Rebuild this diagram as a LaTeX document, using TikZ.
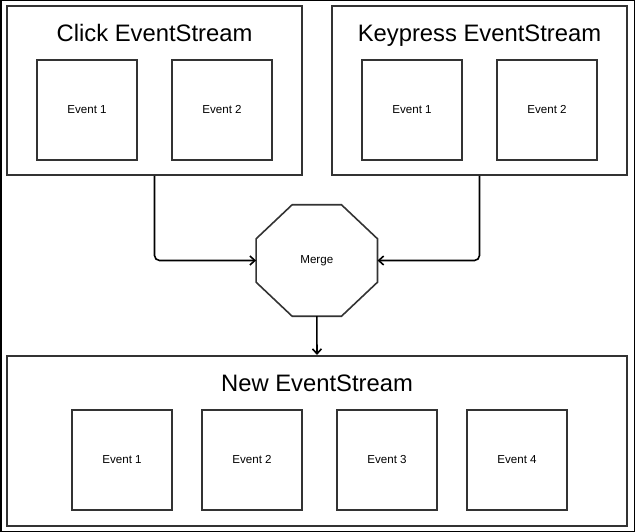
\documentclass[tikz,border=0pt]{standalone}
\usepackage{fontspec}
\setmainfont{Liberation Sans}
\usetikzlibrary{arrows.meta,calc}
\definecolor{boxline}{HTML}{333333}
\tikzset{
  stream/.style={draw=boxline, line width=2pt, minimum width=#1, minimum height=169pt, inner sep=0pt},
  evbox/.style={draw=boxline, line width=2pt, minimum width=100pt, minimum height=100pt, inner sep=0pt, font=\fontsize{11.6}{14}\selectfont},
  title/.style={anchor=base, inner sep=0pt, font=\fontsize{23.8}{28}\selectfont},
  conn/.style={draw=black, line width=1.6pt, rounded corners=5pt, -{Straight Barb[length=5pt,width=9pt,line width=1.6pt]}},
}
\begin{document}
\begin{tikzpicture}[x=1pt,y=-1pt]
\useasboundingbox (0,0) rectangle (635,532);
\draw[black, line width=1.5pt] (0.75,0.75) rectangle (634.25,531.25);
% streams
\node[stream=295pt] (click) at (154.5,90.5) {};
\node[stream=295pt] (keypress) at (479.5,90.5) {};
\node[stream=620pt, minimum height=170pt] (newstream) at (317,441) {};
% titles
\node[title] (clickt) at (154.5,41.7) {Click EventStream};
\node[title] (keyt) at (479.5,41.7) {Keypress EventStream};
\node[title] (newt) at (317,391.7) {New EventStream};
% events
\node[evbox] (c1) at (87,110) {Event 1};
\node[evbox] (c2) at (222,110) {Event 2};
\node[evbox] (k1) at (412,110) {Event 1};
\node[evbox] (k2) at (547,110) {Event 2};
\node[evbox] (n1) at (122,460) {Event 1};
\node[evbox] (n2) at (252,460) {Event 2};
\node[evbox] (n3) at (387,460) {Event 3};
\node[evbox] (n4) at (517,460) {Event 4};
% merge octagon
\node[minimum width=121pt, minimum height=111pt, inner sep=0pt, font=\fontsize{11.6}{14}\selectfont] (merge) at (316.8,260.5) {Merge};
\draw[boxline, line width=1.6pt, line join=miter]
  ($(merge.north west)+(36,0)$) -- ($(merge.north east)+(-36,0)$)
  -- ($(merge.north east)+(0,34)$) -- ($(merge.south east)+(0,-34)$)
  -- ($(merge.south east)+(-36,0)$) -- ($(merge.south west)+(36,0)$)
  -- ($(merge.south west)+(0,-34)$) -- ($(merge.north west)+(0,34)$) -- cycle;
% connectors
\draw[conn] (click.south) |- (merge.west);
\draw[conn] (keypress.south) |- (merge.east);
\draw[conn] (merge.south) -- (newstream.north);
\end{tikzpicture}
\end{document}
